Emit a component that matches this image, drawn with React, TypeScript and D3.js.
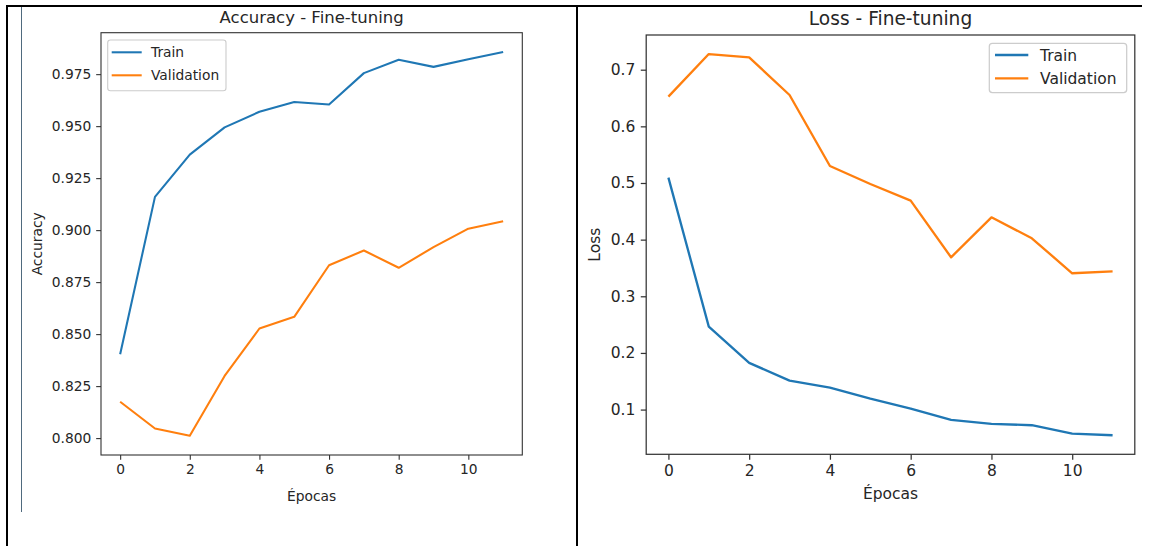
import React, { useEffect, useRef } from 'react';
import * as d3 from 'd3';

// Values (two matplotlib figures pasted into a table)
const epochs = [0, 1, 2, 3, 4, 5, 6, 7, 8, 9, 10, 11];
const xTicks = [0, 2, 4, 6, 8, 10];

const accTrain = [0.8403, 0.916, 0.9363, 0.9494, 0.9569, 0.9616, 0.9604, 0.9755, 0.9819, 0.9785, 0.9822, 0.9857];
const accVal = [0.8175, 0.8046, 0.8011, 0.8299, 0.8527, 0.8583, 0.8831, 0.8902, 0.8819, 0.8918, 0.9007, 0.9043];
const accTicks = [0.8, 0.825, 0.85, 0.875, 0.9, 0.925, 0.95, 0.975];

const lossTrain = [0.5094, 0.2465, 0.1824, 0.1512, 0.1388, 0.1194, 0.1018, 0.0818, 0.0747, 0.0724, 0.0576, 0.0547];
const lossVal = [0.6524, 0.7276, 0.7218, 0.6553, 0.53, 0.4982, 0.4688, 0.3688, 0.4394, 0.4024, 0.3406, 0.3441];
const lossTicks = [0.1, 0.2, 0.3, 0.4, 0.5, 0.6, 0.7];

const seriesNames = ['Train', 'Validation'];
const colors = ['#1f77b4', '#ff7f0e'];

const FONT = '"DejaVu Sans", "Liberation Sans", sans-serif';
const INK = '#262626';

// matplotlib style: 5% margin on each side of the data range
const padded = (vals) => {
  const [lo, hi] = d3.extent(vals);
  const m = (hi - lo) * 0.05;
  return [lo - m, hi + m];
};

const drawPanel = (svg, cfg) => {
  const g = svg.append('g');

  if (cfg.clipBottom) {
    const id = `clip-${cfg.key}`;
    svg.append('defs').append('clipPath').attr('id', id)
      .append('rect')
      .attr('x', cfg.clipLeft).attr('y', 0)
      .attr('width', cfg.clipRight - cfg.clipLeft)
      .attr('height', cfg.clipBottom);
    g.attr('clip-path', `url(#${id})`);
  }

  const { left, right, top, bottom } = cfg.box;
  const s = cfg.scale; // px per pt for this pasted figure

  const x = d3.scaleLinear().domain(padded(epochs)).range([left, right]);
  const y = d3.scaleLinear().domain(padded(cfg.train.concat(cfg.val))).range([bottom, top]);

  // Axes
  const styleAxis = (ax) => {
    ax.select('.domain').remove();
    ax.attr('font-family', FONT).attr('font-size', cfg.fontSize);
    ax.selectAll('.tick line').attr('stroke', '#333').attr('stroke-width', 0.8 * s);
    ax.selectAll('.tick text').attr('fill', INK);
  };

  g.append('g')
    .attr('transform', `translate(0,${bottom})`)
    .call(d3.axisBottom(x).tickValues(xTicks).tickFormat(d3.format('d'))
      .tickSize(3.5 * s).tickPadding(3.5 * s))
    .call(styleAxis);

  g.append('g')
    .attr('transform', `translate(${left},0)`)
    .call(d3.axisLeft(y).tickValues(cfg.yTicks).tickFormat(d3.format(cfg.yFormat))
      .tickSize(3.5 * s).tickPadding(3.5 * s))
    .call(styleAxis);

  // Lines
  const line = d3.line()
    .x((d, i) => x(epochs[i]))
    .y(d => y(d));

  [cfg.train, cfg.val].forEach((vals, i) => {
    g.append('path')
      .datum(vals)
      .attr('fill', 'none')
      .attr('stroke', colors[i])
      .attr('stroke-width', 1.5 * s)
      .attr('stroke-linejoin', 'round')
      .attr('d', line);
  });

  // Frame (spines sit above the lines)
  g.append('rect')
    .attr('x', left).attr('y', top)
    .attr('width', right - left).attr('height', bottom - top)
    .attr('fill', 'none')
    .attr('stroke', '#333')
    .attr('stroke-width', 0.8 * s);

  // Title and labels
  g.append('text')
    .attr('x', (left + right) / 2).attr('y', cfg.titleY)
    .attr('text-anchor', 'middle')
    .attr('font-family', FONT).attr('font-size', cfg.titleSize)
    .attr('fill', INK)
    .text(cfg.title);

  g.append('text')
    .attr('x', (left + right) / 2).attr('y', cfg.xLabelY)
    .attr('text-anchor', 'middle')
    .attr('font-family', FONT).attr('font-size', cfg.fontSize)
    .attr('fill', INK)
    .text('Épocas');

  g.append('text')
    .attr('transform', `translate(${cfg.yLabelX},${(top + bottom) / 2}) rotate(-90)`)
    .attr('text-anchor', 'middle')
    .attr('font-family', FONT).attr('font-size', cfg.fontSize)
    .attr('fill', INK)
    .text(cfg.yLabel);

  // Legend
  const lg = cfg.legend;
  g.append('rect')
    .attr('x', lg.left).attr('y', lg.top)
    .attr('width', lg.width).attr('height', lg.height)
    .attr('rx', 2 * s)
    .attr('fill', 'white').attr('fill-opacity', 0.8)
    .attr('stroke', '#cccccc').attr('stroke-width', 0.8 * s);

  const items = g.append('g')
    .selectAll('g')
    .data(seriesNames)
    .enter().append('g')
    .attr('transform', (d, i) => `translate(${lg.left},${lg.firstY + i * lg.rowGap})`);

  items.append('line')
    .attr('x1', lg.lineX0).attr('x2', lg.lineX1)
    .attr('stroke', (d, i) => colors[i])
    .attr('stroke-width', 1.5 * s);

  items.append('text')
    .attr('x', lg.textX)
    .attr('dy', '0.36em')
    .attr('font-family', FONT).attr('font-size', cfg.fontSize)
    .attr('fill', INK)
    .text(d => d);
};

const App = () => {
  const svgRef = useRef(null);

  useEffect(() => {
    const svg = d3.select(svgRef.current);
    svg.selectAll('*').remove();

    // Table borders of the document the charts were pasted into
    svg.append('rect').attr('width', 1151).attr('height', 546).attr('fill', 'white');
    svg.append('line').attr('x1', 21.5).attr('x2', 21.5).attr('y1', 7).attr('y2', 512)
      .attr('stroke', '#4f6a7e').attr('stroke-width', 1);

    drawPanel(svg, {
      key: 'acc',
      title: 'Accuracy - Fine-tuning',
      yLabel: 'Accuracy',
      train: accTrain,
      val: accVal,
      yTicks: accTicks,
      yFormat: '.3f',
      box: { left: 101, right: 522.3, top: 32.7, bottom: 455 },
      scale: 1.38,
      fontSize: 13.8,
      titleSize: 16.5,
      titleY: 22.5,
      xLabelY: 501,
      yLabelX: 42,
      legend: { left: 107.7, top: 40, width: 118.3, height: 50.7, firstY: 52.3, rowGap: 23, lineX0: 4, lineX1: 34, textX: 43.3 },
    });

    drawPanel(svg, {
      key: 'loss',
      title: 'Loss - Fine-tuning',
      yLabel: 'Loss',
      train: lossTrain,
      val: lossVal,
      yTicks: lossTicks,
      yFormat: '.1f',
      box: { left: 646.2, right: 1134.8, top: 35, bottom: 454.3 },
      scale: 1.55,
      fontSize: 15.5,
      titleSize: 18.6,
      titleY: 25,
      xLabelY: 498.5,
      yLabelX: 600,
      clipBottom: 502,
      clipLeft: 578,
      clipRight: 1151,
      legend: { left: 989.3, top: 43.3, width: 137.4, height: 49.4, firstY: 55, rowGap: 23.3, lineX0: 5.7, lineX1: 39, textX: 50.7 },
    });

    const border = svg.append('g').attr('stroke', '#000').attr('stroke-width', 2);
    border.append('line').attr('x1', 6).attr('x2', 1142).attr('y1', 6).attr('y2', 6);
    border.append('line').attr('x1', 7).attr('x2', 7).attr('y1', 5).attr('y2', 546);
    border.append('line').attr('x1', 577).attr('x2', 577).attr('y1', 5).attr('y2', 546);
  }, []);

  return (
    <svg
      ref={svgRef}
      width={1151}
      height={546}
      style={{ position: 'absolute', left: 0, top: 0 }}
    />
  );
};

export default App;
